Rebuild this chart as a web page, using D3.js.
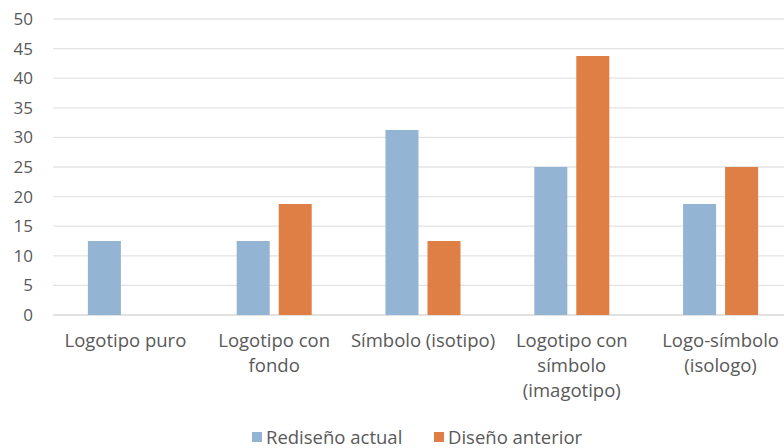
<!DOCTYPE html>
<html>
<head>
<meta charset="utf-8">
<script src="https://cdn.jsdelivr.net/npm/d3@7"></script>
<style>
  html, body { margin: 0; padding: 0; background: #fff; }
  svg { display: block; font-family: "Open Sans", "Noto Sans", sans-serif; }
</style>
</head>
<body>
<svg id="chart" width="784" height="448"></svg>
<script>
// Categories (each label split into its display lines)
const categories = ["Logotipo puro", "Logotipo con fondo", "Símbolo (isotipo)", "Logotipo con símbolo (imagotipo)", "Logo-símbolo (isologo)"];
const categoryLines = [
  ["Logotipo puro"],
  ["Logotipo con", "fondo"],
  ["Símbolo (isotipo)"],
  ["Logotipo con", "símbolo", "(imagotipo)"],
  ["Logo-símbolo", "(isologo)"]
];
const seriesNames = ["Rediseño actual", "Diseño anterior"];
const rediseno = [12.5, 12.5, 31.25, 25, 18.75];
const disenoAnterior = [0, 18.75, 12.5, 43.75, 25];
const yTicks = [0, 5, 10, 15, 20, 25, 30, 35, 40, 45, 50];
const colors = ["#94b4d4", "#e07f45"];

const svg = d3.select("#chart");
const plot = { left: 51, right: 795, top: 19, bottom: 315 };

const x = d3.scaleBand().domain(categories).range([plot.left, plot.right]).paddingInner(0).paddingOuter(0);
const y = d3.scaleLinear().domain([0, 50]).range([plot.bottom, plot.top]);
const x1 = d3.scaleBand().domain(seriesNames).range([0, x.bandwidth()]).paddingInner(0.214).paddingOuter(0.878);

// Gridlines
svg.append("g")
  .selectAll("line")
  .data(yTicks)
  .join("line")
  .attr("x1", 53).attr("x2", 784)
  .attr("y1", d => y(d)).attr("y2", d => y(d))
  .attr("stroke", d => d === 0 ? "#d9d9d9" : "#e3e3e3")
  .attr("stroke-width", 1.3);

// Y axis labels
const yAxis = d3.axisLeft(y).tickValues(yTicks).tickSize(0).tickPadding(0);
svg.append("g")
  .attr("transform", "translate(33,0)")
  .call(yAxis)
  .call(g => g.select(".domain").remove())
  .call(g => g.selectAll("text")
    .attr("fill", "#595959")
    .attr("font-size", 17)
    .attr("font-family", "'Open Sans', sans-serif"));

// Bars
const rows = categories.map((c, i) => ({ cat: c, vals: [rediseno[i], disenoAnterior[i]] }));
const groups = svg.append("g").selectAll("g")
  .data(rows)
  .join("g")
  .attr("transform", d => `translate(${x(d.cat)},0)`);

groups.selectAll("rect")
  .data(d => d.vals.map((v, j) => ({ name: seriesNames[j], v, j })))
  .join("rect")
  .attr("x", d => x1(d.name))
  .attr("width", x1.bandwidth())
  .attr("y", d => y(d.v))
  .attr("height", d => y(0) - y(d.v))
  .attr("fill", d => colors[d.j]);

// Category labels
const labels = svg.append("g").selectAll("text")
  .data(categories)
  .join("text")
  .attr("x", d => x(d) + x.bandwidth() / 2)
  .attr("y", 347)
  .attr("text-anchor", "middle")
  .attr("fill", "#595959")
  .attr("font-size", 18.5);
labels.each(function(d, i) {
  d3.select(this).selectAll("tspan")
    .data(categoryLines[i])
    .join("tspan")
    .attr("x", x(d) + x.bandwidth() / 2)
    .attr("dy", (t, k) => k === 0 ? 0 : 25)
    .text(t => t);
});

// Legend
const legendItems = [
  { name: seriesNames[0], color: colors[0], sx: 252 },
  { name: seriesNames[1], color: colors[1], sx: 434 }
];
const legend = svg.append("g").selectAll("g")
  .data(legendItems)
  .join("g");
legend.append("rect")
  .attr("x", d => d.sx).attr("y", 432)
  .attr("width", 10).attr("height", 10)
  .attr("fill", d => d.color);
legend.append("text")
  .attr("x", d => d.sx + 14).attr("y", 444)
  .attr("fill", "#595959")
  .attr("font-size", 18.5)
  .text(d => d.name);
</script>
</body>
</html>
